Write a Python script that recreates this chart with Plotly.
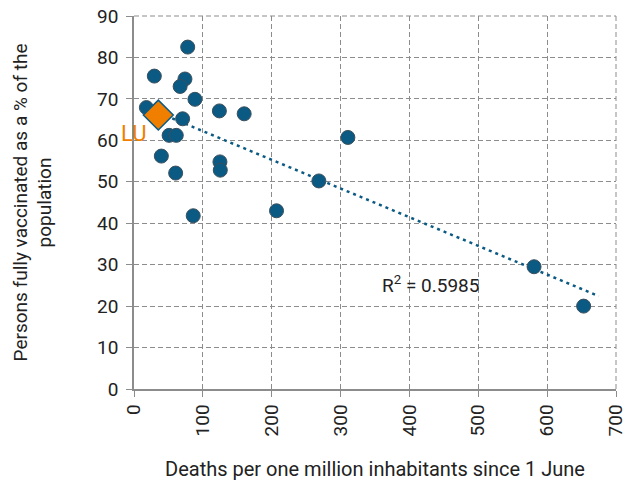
import numpy as np
import plotly.graph_objects as go

# Data (deaths per million since 1 June, % fully vaccinated)
deaths = [18, 29.5, 78, 74, 67, 88.5, 70.6, 124, 160, 51, 61.4, 310.6, 39.7, 60.5,
          124.8, 125.3, 268.5, 86, 207, 581, 653]
vaccinated = [67.9, 75.5, 82.5, 74.8, 73.0, 69.9, 65.2, 67.1, 66.4, 61.2, 61.2, 60.7,
              56.2, 52.1, 54.8, 52.8, 50.2, 41.8, 43.0, 29.5, 20.0]
lu_deaths = [35.3]
lu_vacc = [66.1]
x_ticks = [0, 100, 200, 300, 400, 500, 600, 700]
y_ticks = [0, 10, 20, 30, 40, 50, 60, 70, 80, 90]
r2_label = "R<sup>2</sup> = 0.5985"

all_x = np.array(deaths + lu_deaths)
all_y = np.array(vaccinated + lu_vacc)
slope, intercept = np.polyfit(all_x, all_y, 1)
trend_x = np.array([all_x.min(), 675])
trend_y = slope * trend_x + intercept

BLUE = "#0B5A84"
ORANGE = "#F07F00"
GRID = "#8C8C8C"
FONT = "Roboto"
GRID_DASH = "5px,3px"

fig = go.Figure()
fig.add_trace(go.Scatter(x=trend_x, y=trend_y, mode="lines",
                         line=dict(color=BLUE, width=2.5, dash="3px,4px"),
                         hoverinfo="skip", showlegend=False))
fig.add_trace(go.Scatter(x=deaths, y=vaccinated, mode="markers",
                         marker=dict(color=BLUE, size=14,
                                     line=dict(color="#3A4F5C", width=1)),
                         showlegend=False))
fig.add_trace(go.Scatter(x=lu_deaths, y=lu_vacc, mode="markers",
                         marker=dict(color=ORANGE, size=23, symbol="diamond",
                                     line=dict(color=BLUE, width=1.5)),
                         showlegend=False))
fig.add_annotation(x=lu_deaths[0], y=lu_vacc[0], text="LU", showarrow=False,
                   xshift=-24, yshift=-18,
                   font=dict(family=FONT, size=22, color=ORANGE))
fig.add_annotation(x=430, y=25.3, text=r2_label, showarrow=False,
                   font=dict(family=FONT, size=19, color="#222"))

# top and right dashed border gridlines (at the axis range ends)
fig.add_shape(type="line", xref="paper", yref="paper", x0=0, x1=1, y0=1, y1=1,
              line=dict(color=GRID, width=1, dash=GRID_DASH), layer="below")
fig.add_shape(type="line", xref="paper", yref="paper", x0=1, x1=1, y0=0, y1=1,
              line=dict(color=GRID, width=1, dash=GRID_DASH), layer="below")

fig.update_layout(
    width=627, height=486,
    margin=dict(l=134, r=11, t=16, b=97),
    paper_bgcolor="white", plot_bgcolor="white",
    font=dict(family=FONT, color="#333"),
    xaxis=dict(range=[0, 700], tickvals=x_ticks, tickangle=-90, automargin=False,
               showgrid=True, gridcolor=GRID, griddash=GRID_DASH, gridwidth=1,
               showline=True, linecolor=GRID, linewidth=1.5,
               ticks="outside", ticklen=6, tickcolor=GRID,
               tickfont=dict(size=19, color="#222"), ticklabeloverflow="allow",
               zeroline=False,
               title=dict(text="Deaths per one million inhabitants since 1 June",
                          font=dict(size=20, color="#222"), standoff=27)),
    yaxis=dict(range=[0, 90], tickvals=y_ticks, automargin=False,
               showgrid=True, gridcolor=GRID, griddash=GRID_DASH, gridwidth=1,
               showline=True, linecolor=GRID, linewidth=1.5,
               ticks="outside", ticklen=6, tickcolor=GRID,
               tickfont=dict(size=19, color="#222"), ticklabeloverflow="allow",
               zeroline=False, ticklabelstandoff=4,
               title=dict(text="Persons fully vaccinated as a % of the<br>population",
                          font=dict(size=19, color="#222"), standoff=40)),
)
fig.write_html("out.html", config={"displayModeBar": False})

# remove default page margin so the figure sits at the window's top-left
with open("out.html", encoding="utf-8") as f:
    html = f.read()
html = html.replace("<head>", "<head><style>html,body{margin:0;padding:0;overflow:hidden}</style>", 1)
with open("out.html", "w", encoding="utf-8") as f:
    f.write(html)
